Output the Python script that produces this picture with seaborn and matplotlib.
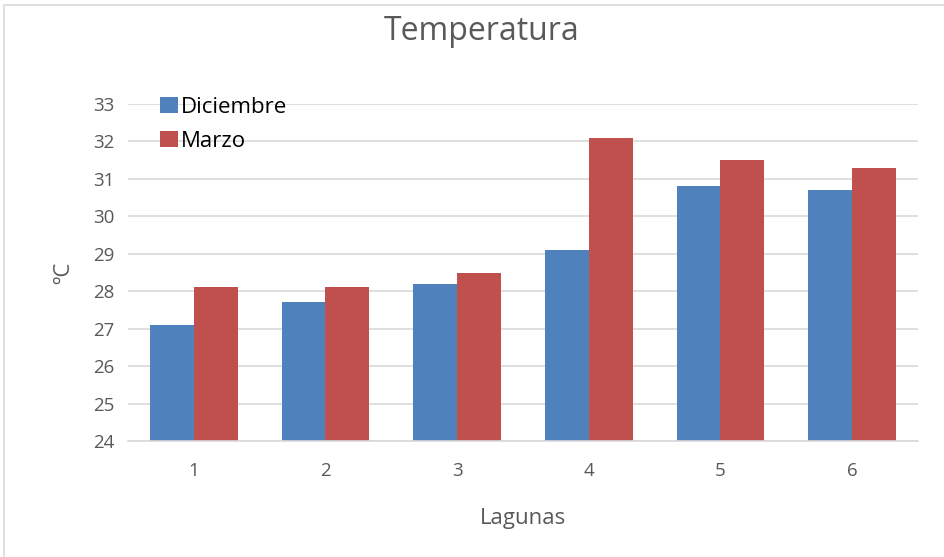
import matplotlib
matplotlib.use("Agg")
import matplotlib.pyplot as plt
import seaborn as sns
import pandas as pd
from matplotlib.patches import Rectangle

lagunas = ["1", "2", "3", "4", "5", "6"]
diciembre = [27.1, 27.7, 28.2, 29.1, 30.8, 30.7]
marzo = [28.1, 28.1, 28.5, 32.1, 31.5, 31.3]
series_names = ["Diciembre", "Marzo"]
y_ticks = [24, 25, 26, 27, 28, 29, 30, 31, 32, 33]

df = pd.DataFrame({
    "Lagunas": lagunas * 2,
    "Temp": diciembre + marzo,
    "Serie": [series_names[0]] * len(lagunas) + [series_names[1]] * len(lagunas),
})

sns.set_theme(style="white")
plt.rcParams['font.family'] = ['Open Sans', 'DejaVu Sans']

fig = plt.figure(figsize=(9.45, 5.57), dpi=100)
ax = fig.add_axes([128/945, 1-441/557, (918-128)/945, (441-104)/557])

palette = {"Diciembre": "#4F81BD", "Marzo": "#C0504D"}
sns.barplot(data=df, x="Lagunas", y="Temp", hue="Serie", order=lagunas,
            hue_order=series_names, palette=palette, width=0.667, gap=0,
            saturation=1, ax=ax, legend=True, edgecolor="none")

ax.set_ylim(24, 33)
ax.set_xlim(-0.5, 5.5)
ax.set_yticks(y_ticks)
ax.yaxis.grid(True, color="#D9D9D9", linewidth=1.2)
ax.set_axisbelow(True)
for s in ["top", "right", "left"]:
    ax.spines[s].set_visible(False)
ax.spines["bottom"].set_color("#D9D9D9")
ax.spines["bottom"].set_linewidth(1.2)
ax.tick_params(axis="both", length=0, labelsize=13.5, colors="#595959")
ax.tick_params(axis="y", pad=10)
ax.tick_params(axis="x", pad=15)
ax.set_xlabel("Lagunas", fontsize=16, color="#595959", labelpad=20)
ax.set_ylabel("ºC", fontsize=16, color="#595959", labelpad=13)

leg = ax.legend(loc="upper left", bbox_to_anchor=(0.029, 1.047), frameon=False,
                fontsize=16, handlelength=0.8, handleheight=0.75,
                handletextpad=0.15, labelspacing=0.57, borderaxespad=0)
for t in leg.get_texts():
    t.set_color("#000000")

fig.text(482/945, 1-32/557, "Temperatura", ha="center", va="center",
         fontsize=23, color="#595959")

fig.patches.append(Rectangle((4/945, -0.01), 1.0, 1-5/557+0.01, transform=fig.transFigure,
                             fill=False, edgecolor="#D9D9D9", linewidth=1.2))

fig.savefig("out.png", dpi=100)
